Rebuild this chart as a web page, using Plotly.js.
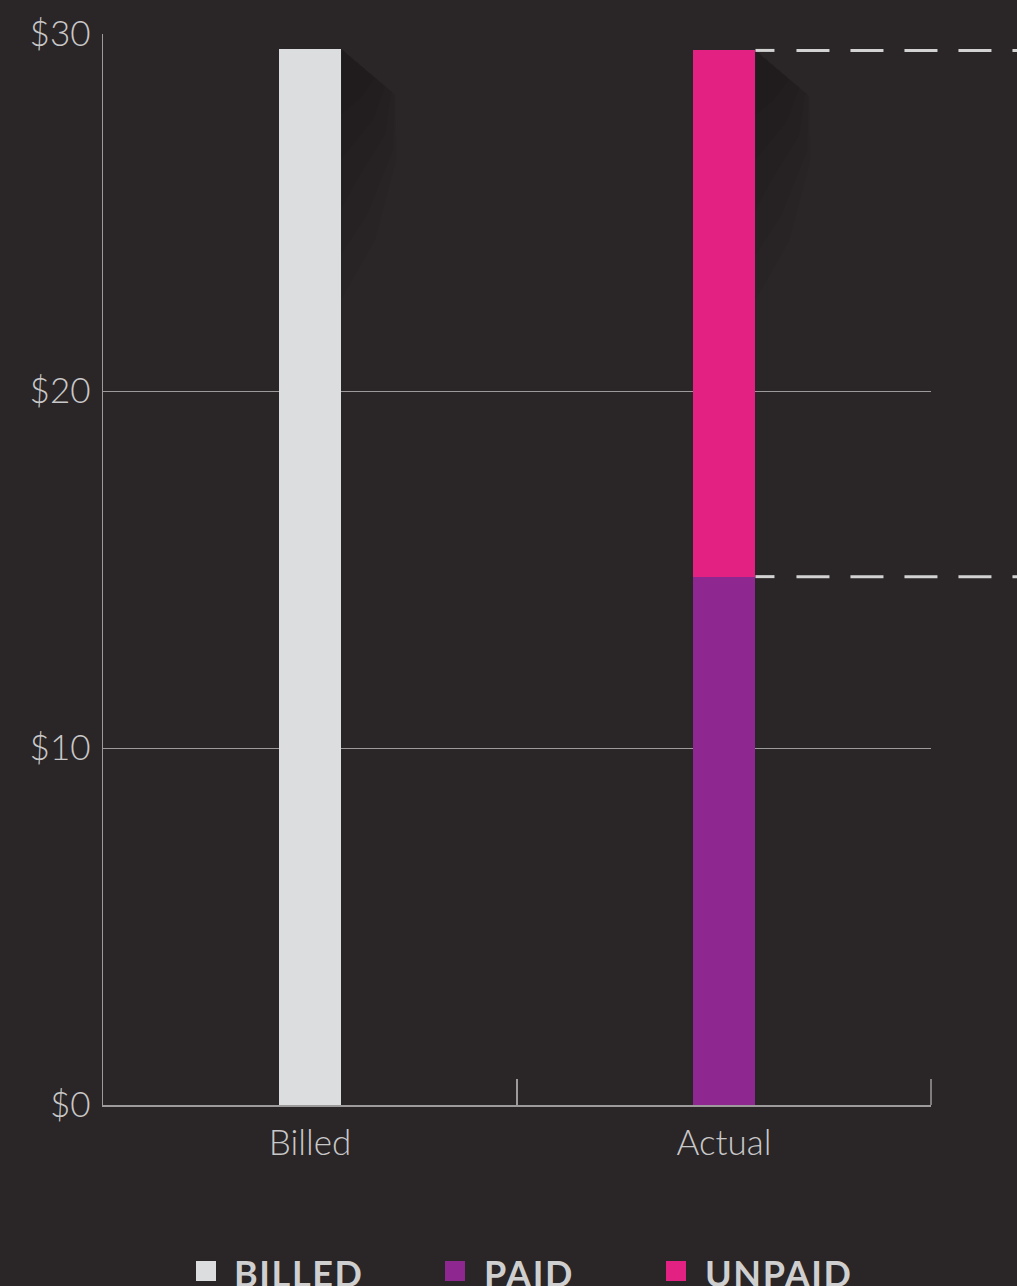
<!DOCTYPE html>
<html>
<head>
<meta charset="utf-8">
<script src="https://cdn.plot.ly/plotly-3.0.1.min.js"></script>
<style>
  html, body { margin: 0; padding: 0; background: #2a2627; }
  #chart { width: 1017px; height: 1286px; }
  .annotation-text { letter-spacing: 1.6px; }
</style>
</head>
<body>
<div id="chart"></div>
<script>
// ---- data ----
var categories = ['Billed', 'Actual'];
var seriesNames = ['BILLED', 'PAID', 'UNPAID'];
var billedValues = [29.57];      // Billed column
var paidValues = [14.80];        // Actual column, bottom segment
var unpaidValues = [14.74];      // Actual column, top segment
var yTickVals = [0, 10, 20, 30];
var yTickText = ['$0', '$10', '$20', '$30'];
var seriesColors = ['#dcdddf', '#8e278f', '#e22183'];

// ---- layout constants ----
var W = 1017, H = 1286;
var M = {l: 103, r: 86, t: 34, b: 181};
var plotW = W - M.l - M.r, plotH = H - M.t - M.b;
var yMax = 30;
var barW = 0.152;
var pxX = plotW / categories.length;   // px per category unit
var pxY = plotH / yMax;                // px per y unit
var bg = '#2a2627';
var gridCol = '#9c9a9b';
var txtCol = '#c9c8c9';

var traces = [
  {type: 'bar', name: seriesNames[0], x: [categories[0]], y: billedValues,
   width: barW, marker: {color: seriesColors[0], line: {width: 0}}, hoverinfo: 'none'},
  {type: 'bar', name: seriesNames[1], x: [categories[1]], y: paidValues,
   width: barW, marker: {color: seriesColors[1], line: {width: 0}}, hoverinfo: 'none'},
  {type: 'bar', name: seriesNames[2], x: [categories[1]], y: unpaidValues,
   width: barW, marker: {color: seriesColors[2], line: {width: 0}}, hoverinfo: 'none'}
];

// soft shadows to the right of each column top
function shadowShapes(idx, top) {
  var R = idx + barW / 2;
  var polys = [
    [[0,0],[54,46],[55,110],[34,190],[0,250]],
    [[0,0],[53,45],[52,100],[26,165],[0,205]],
    [[0,0],[50,42],[44,85],[16,130],[0,160]],
    [[0,0],[44,37],[32,70],[8,100],[0,110]],
    [[0,0],[34,29],[18,50],[0,65]]
  ];
  return polys.map(function (p) {
    var d = p.map(function (pt, i) {
      return (i ? 'L' : 'M') + (R + pt[0] / pxX).toFixed(4) + ',' + (top - pt[1] / pxY).toFixed(4);
    }).join('') + 'Z';
    return {type: 'path', xref: 'x', yref: 'y', path: d, fillcolor: 'rgba(0,0,0,0.04)',
            line: {width: 0}, layer: 'below'};
  });
}

var actualTop = paidValues[0] + unpaidValues[0];
var shapes = [].concat(shadowShapes(0, billedValues[0]), shadowShapes(1, actualTop));

// dashed guide lines from Actual column to right edge
var barRightPaper = ((1 + barW / 2) + 0.5) / categories.length;
var dashEnd = (W - M.l) / plotW;
var dashStyle = {color: '#d2d2d2', width: 3};
[actualTop, paidValues[0]].forEach(function (v) {
  // short leading dash, then regular dash pattern
  shapes.push({type: 'line', xref: 'paper', yref: 'y', x0: barRightPaper, x1: barRightPaper + 19 / plotW,
               y0: v, y1: v, line: dashStyle});
  shapes.push({type: 'line', xref: 'paper', yref: 'y', x0: barRightPaper + 41 / plotW, x1: dashEnd,
               y0: v, y1: v, line: {color: dashStyle.color, width: dashStyle.width, dash: '33px,21px'}});
});

// closing tick at right end of x axis
shapes.push({type: 'line', xref: 'paper', yref: 'paper', x0: 1, x1: 1, y0: 0, y1: 26 / plotH,
             line: {color: gridCol, width: 1.5}});

// manual legend
var legendX = [196, 445, 666];
var legendTextX = [234, 484, 705];
var legendY = 1271;
var annotations = [];
seriesNames.forEach(function (n, i) {
  var x0 = (legendX[i] - M.l) / plotW, x1 = (legendX[i] + 20 - M.l) / plotW;
  var yc = (H - M.b - legendY) / plotH;
  shapes.push({type: 'rect', xref: 'paper', yref: 'paper', x0: x0, x1: x1,
               y0: yc - 10 / plotH, y1: yc + 10 / plotH, fillcolor: seriesColors[i], line: {width: 0}});
  annotations.push({xref: 'paper', yref: 'paper', x: (legendTextX[i] - M.l - 2) / plotW, y: yc - 2 / plotH,
                    xanchor: 'left', yanchor: 'middle', showarrow: false, text: n,
                    font: {family: 'Lato, "Open Sans", sans-serif', size: 36, weight: 700, color: '#d0cfd0'}});
});

var layout = {
  width: W, height: H,
  margin: M,
  paper_bgcolor: bg, plot_bgcolor: bg,
  barmode: 'stack',
  showlegend: false,
  xaxis: {
    type: 'category', range: [-0.5, 1.5], fixedrange: true,
    showline: true, linecolor: gridCol, linewidth: 1.5,
    ticks: 'inside', tickson: 'boundaries', ticklen: 26, tickcolor: gridCol, tickwidth: 1.5,
    showgrid: false, zeroline: false,
    tickfont: {family: 'Lato, "Open Sans", sans-serif', size: 35, weight: 300, color: txtCol},
    ticklabelstandoff: 6
  },
  yaxis: {
    range: [0, yMax], fixedrange: true,
    tickmode: 'array', tickvals: yTickVals, ticktext: yTickText,
    showline: true, linecolor: gridCol, linewidth: 1.5,
    showgrid: true, gridcolor: gridCol, gridwidth: 1,
    zeroline: false, ticks: '',
    tickfont: {family: 'Lato, "Open Sans", sans-serif', size: 35, weight: 300, color: txtCol},
    ticklabelstandoff: 4
  },
  shapes: shapes,
  annotations: annotations
};

Plotly.newPlot('chart', traces, layout, {displayModeBar: false, staticPlot: true});
</script>
</body>
</html>
